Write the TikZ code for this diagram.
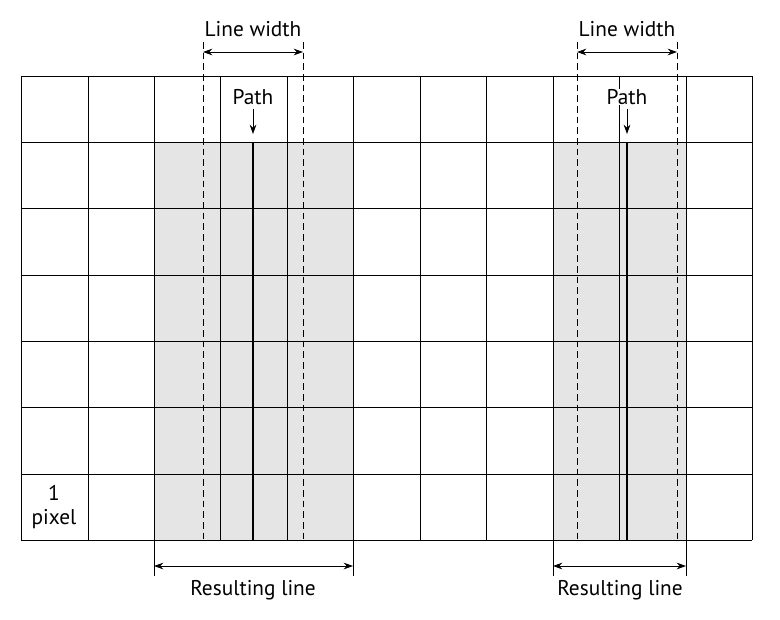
\documentclass[tikz,border=0pt]{standalone}
\usepackage{fontspec}
\setmainfont{PT Sans}
\usetikzlibrary{arrows.meta}
\begin{document}
\begin{tikzpicture}[x=0.75pt,y=-0.75pt,
  lbl/.style={font=\fontsize{16}{18}\selectfont,inner sep=1pt},
  dim/.style={{Stealth[length=7pt,width=5pt]}-{Stealth[length=7pt,width=5pt]},line width=0.7pt},
  dashln/.style={dashed,dash pattern=on 5pt off 3pt,line width=0.6pt},
  pathline/.style={line width=1.6pt},
  gridline/.style={line width=0.6pt}]
\useasboundingbox (0,0) rectangle (780,619);
\fill[gray!20] (154,142) rectangle (353,540);
\fill[gray!20] (553,142) rectangle (686,540);
\foreach \x in {21,88,154,220,287,353,420,486,553,619,686,752} \draw[gridline] (\x,76) -- (\x,540);
\foreach \y in {76,142,208,275,341,407,474,540} \draw[gridline] (21,\y) -- (752,\y);
% left
\draw[dashln] (203,42) -- (203,540);
\draw[dashln] (303,42) -- (303,540);
\node[lbl] (lw1) at (253,29) {Line width};
\coordinate (lwa) at (203,52); \coordinate (lwb) at (303,52);
\draw[dim] (lwa) -- (lwb);
\node[lbl,fill=white,inner sep=0pt] (p1) at (253,97) {Path};
\coordinate (p1t) at (253,142); \coordinate (p1b) at (253,540);
\draw[-{Stealth[length=7pt,width=5pt]},line width=0.7pt] ([yshift=-3pt]p1.south) -- ([yshift=6pt]p1t);
\draw[pathline] (p1t) -- (p1b);
\draw[gridline] (154,540) -- (154,576); \draw[gridline] (353,540) -- (353,576);
\coordinate (r1a) at (154,566); \coordinate (r1b) at (353,566);
\draw[dim] (r1a) -- (r1b);
\node[lbl] (rl1) at (253,590) {Resulting line};
% right
\draw[dashln] (577,42) -- (577,540);
\draw[dashln] (677,42) -- (677,540);
\node[lbl] (lw2) at (627,29) {Line width};
\coordinate (lwc) at (577,52); \coordinate (lwd) at (677,52);
\draw[dim] (lwc) -- (lwd);
\node[lbl,fill=white,inner sep=0pt] (p2) at (627,97) {Path};
\coordinate (p2t) at (627,142); \coordinate (p2b) at (627,540);
\draw[-{Stealth[length=7pt,width=5pt]},line width=0.7pt] ([yshift=-3pt]p2.south) -- ([yshift=6pt]p2t);
\draw[pathline] (p2t) -- (p2b);
\draw[gridline] (553,540) -- (553,576); \draw[gridline] (686,540) -- (686,576);
\coordinate (r2a) at (553,566); \coordinate (r2b) at (686,566);
\draw[dim] (r2a) -- (r2b);
\node[lbl] (rl2) at (620,590) {Resulting line};
\node[lbl,align=center] (px) at (54,507) {1\\pixel};
\end{tikzpicture}
\end{document}
